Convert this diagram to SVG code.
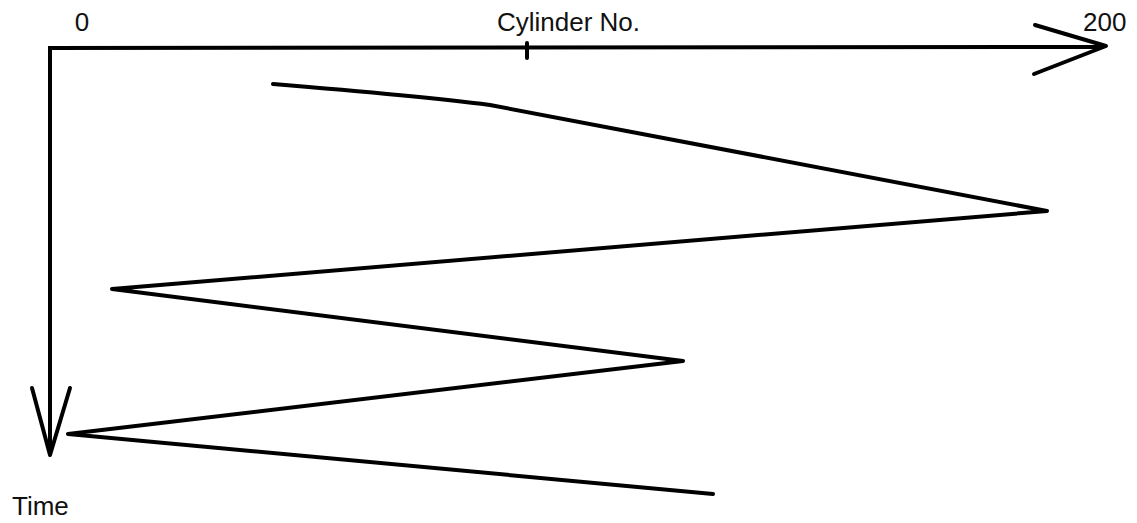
<svg xmlns="http://www.w3.org/2000/svg" width="1137" height="523" viewBox="0 0 1137 523">
<style>
.ln{fill:none;stroke:#000;stroke-width:4;stroke-linecap:round;stroke-linejoin:round}
.t{font-family:"Liberation Sans",Arial,sans-serif;font-size:26px;fill:#111}
</style>
<rect width="1137" height="523" fill="#fff"/>
<g id="axes">
<path class="ln" d="M48,48 L1104,47" style="stroke-linecap:butt"/>
<path class="ln" d="M50,47 L50,455" style="stroke-linecap:butt"/>
<path class="ln" d="M527,43 L527,58"/>
<path class="ln" d="M1035,25 L1106,46 L1034,74"/>
<path class="ln" d="M32,388 L50,455 L70,388"/>
</g>
<g id="labels">
<text class="t" x="82" y="31" text-anchor="middle">0</text>
<text class="t" x="497" y="31">Cylinder No.</text>
<text class="t" x="1083" y="31">200</text>
<text class="t" x="12" y="515">Time</text>
</g>
<g id="connectors">
<path class="ln" d="M273,84 Q420,96 490,105 L1047,211 L112,289 L683,361 L68,434 L713,494"/>
</g>
</svg>
